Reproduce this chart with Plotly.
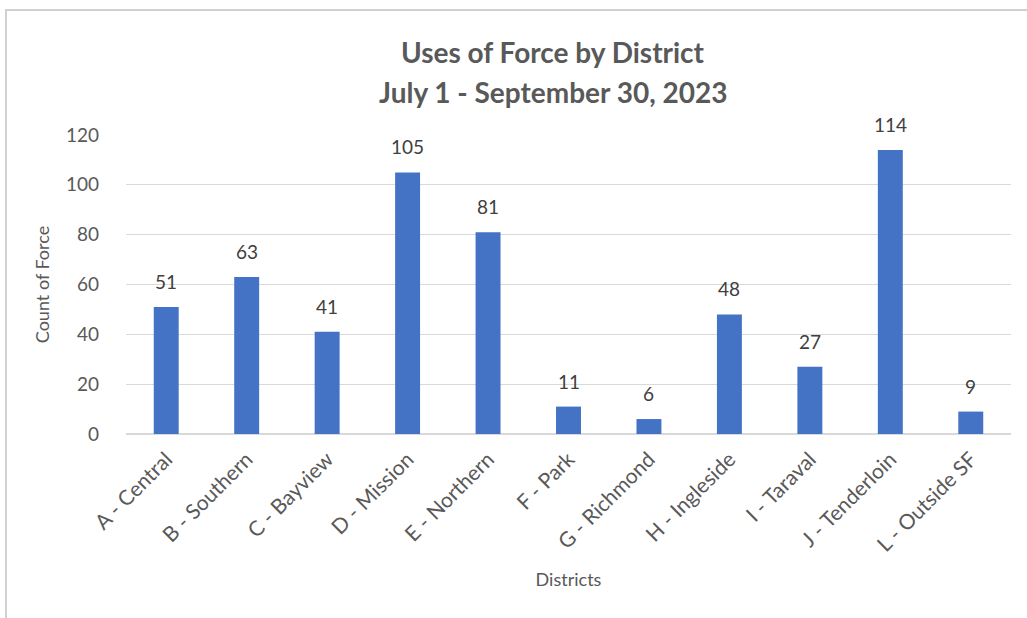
import plotly.graph_objects as go

# Chart data
districts = [
    "A - Central", "B - Southern", "C - Bayview", "D - Mission", "E - Northern",
    "F - Park", "G - Richmond", "H - Ingleside", "I - Taraval", "J - Tenderloin",
    "L - Outside SF",
]
force_counts = [51, 63, 41, 105, 81, 11, 6, 48, 27, 114, 9]
y_ticks = [0, 20, 40, 60, 80, 100, 120]

title_line1 = "Uses of Force by District"
title_line2 = "July 1 - September 30, 2023"

FONT = "Lato, Carlito, Calibri, sans-serif"
TEXT_COLOR = "#595959"
LABEL_COLOR = "#404040"
GRID_COLOR = "#d9d9d9"
BAR_COLOR = "#4472C4"

fig = go.Figure(
    go.Bar(
        x=districts,
        y=force_counts,
        marker=dict(color=BAR_COLOR, line=dict(width=0)),
        hovertemplate="%{x}: %{y}<extra></extra>",
    )
)

# value labels above the bars (Excel-style offset)
for name, val in zip(districts, force_counts):
    fig.add_annotation(
        x=name, y=val, text=str(val), showarrow=False,
        xanchor="center", yanchor="bottom", yshift=12,
        font=dict(size=19, color=LABEL_COLOR, family=FONT),
    )

fig.update_layout(
    width=1027,
    height=618,
    margin=dict(l=126, r=16, t=135, b=184),
    paper_bgcolor="white",
    plot_bgcolor="white",
    font=dict(family=FONT, color=TEXT_COLOR),
    bargap=0.69,
    showlegend=False,
)

fig.update_xaxes(
    tickangle=-45,
    tickfont=dict(size=21, color=TEXT_COLOR),
    showgrid=False,
    showline=False,
    ticks="",
    ticklabelstandoff=8,
    title=dict(text="Districts", font=dict(size=18, color=TEXT_COLOR), standoff=18),
)

fig.update_yaxes(
    range=[0, 120],
    tickvals=y_ticks,
    tickfont=dict(size=19, color=TEXT_COLOR),
    showgrid=True,
    gridcolor=GRID_COLOR,
    gridwidth=1,
    zeroline=True,
    zerolinecolor=GRID_COLOR,
    zerolinewidth=2,
    ticks="",
    ticklabelstandoff=26,
    title=dict(text="Count of Force", font=dict(size=18, color=TEXT_COLOR), standoff=11),
)

# two-line title, placed to match the original spacing
fig.add_annotation(
    text="<b>" + title_line1 + "</b>", xref="paper", yref="paper",
    x=0.4825, y=1.278, showarrow=False, xanchor="center", yanchor="middle",
    font=dict(size=28, color=TEXT_COLOR, family=FONT),
)
fig.add_annotation(
    text="<b>" + title_line2 + "</b>", xref="paper", yref="paper",
    x=0.4825, y=1.1438, showarrow=False, xanchor="center", yanchor="middle",
    font=dict(size=28, color=TEXT_COLOR, family=FONT),
)

# chart frame
fig.add_shape(
    type="rect", xref="paper", yref="paper",
    x0=-0.1356, x1=1.03, y0=-0.63, y1=1.418,
    line=dict(color="#d0d0d0", width=2),
)

# drop the default page margin so the figure sits at the window origin
fig.write_html(
    "out.html",
    config={"displayModeBar": False},
    post_script="document.body.style.margin='0';",
)
